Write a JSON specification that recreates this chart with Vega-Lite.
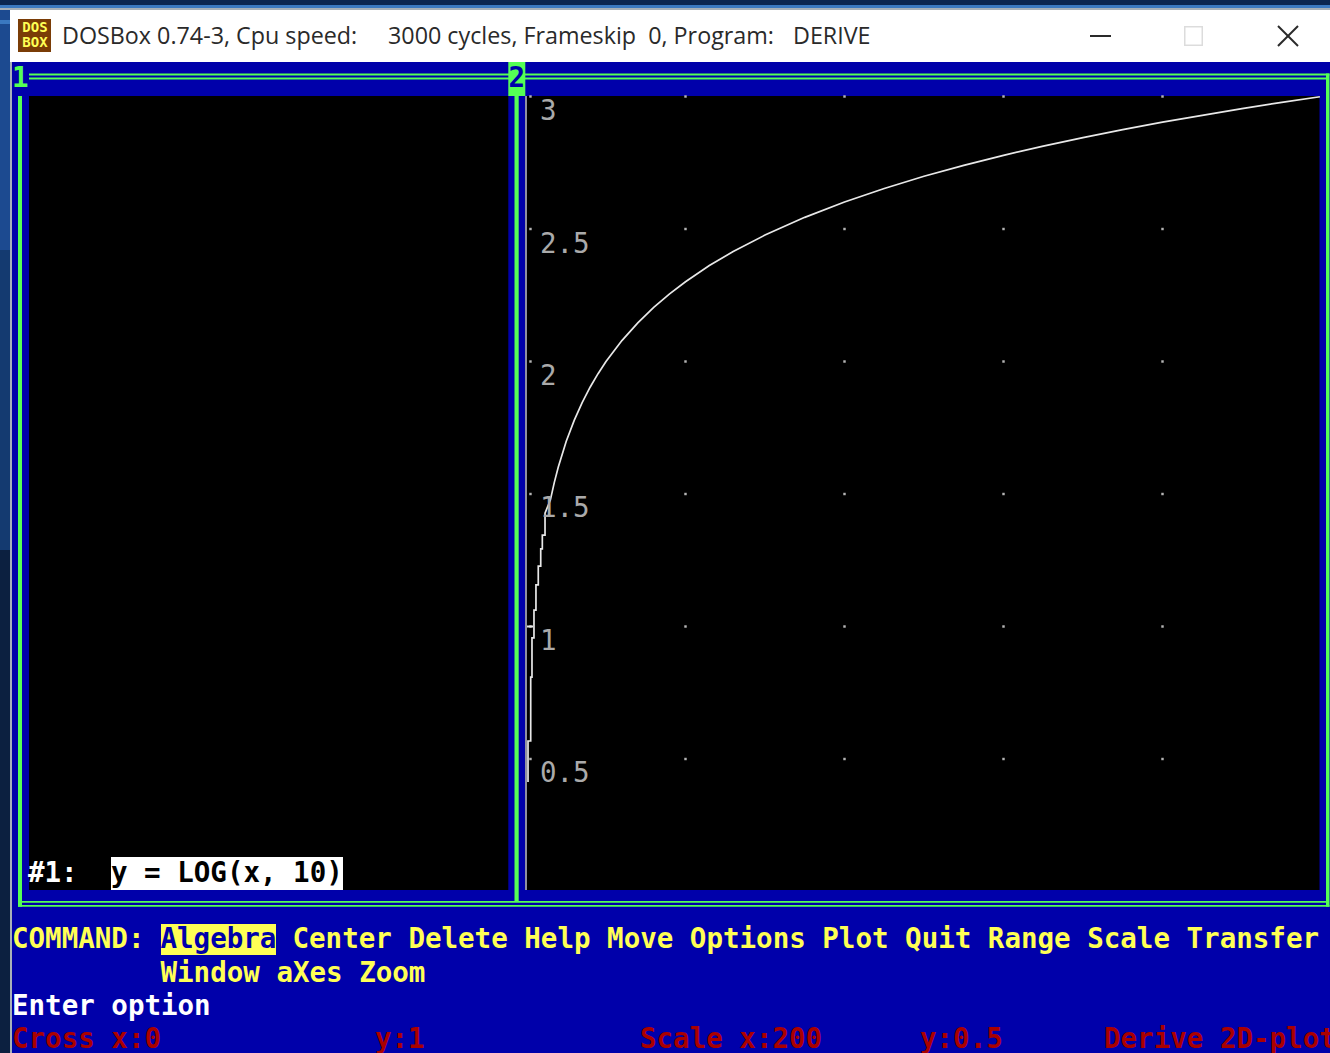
{
"$schema":"https://vega.github.io/schema/vega-lite/v6.json",
"width":1330,"height":1053,"padding":0,
"autosize":{"type":"fit","contains":"padding"},
"background":"#0000aa",
"config":{"view":{"stroke":null}},
"datasets":{
"panels":[
{"x":-662.26,"x2":1010.69,"y":3.36415,"y2":3.3453,"part":"deskTop"},
{"x":-662.26,"x2":1010.69,"y":3.3453,"y2":3.334,"part":"deskStrip"},
{"x":-662.26,"x2":1010.69,"y":3.334,"y2":3.3264,"part":"edge"},
{"x":-662.26,"x2":-649.68,"y":3.3264,"y2":2.4208,"part":"deskUpper"},
{"x":-662.26,"x2":-649.68,"y":3.2887,"y2":3.2736,"part":"deskStrip"},
{"x":-662.26,"x2":-649.68,"y":2.4208,"y2":1.2887,"part":"deskMid"},
{"x":-662.26,"x2":-649.68,"y":1.2887,"y2":-0.60943,"part":"deskLow"},
{"x":-649.68,"x2":-647.17,"y":3.3264,"y2":-0.60943,"part":"edge"},
{"x":-649.68,"x2":1010.69,"y":3.3264,"y2":3.1302,"part":"white"},
{"x":-625.78,"x2":1010.06,"y":3.0868,"y2":3.0792,"part":"frame"},
{"x":-625.78,"x2":1005.66,"y":3.0717,"y2":3.0642,"part":"frame"},
{"x":-639.62,"x2":-634.59,"y":3.0019,"y2":-0.0574,"part":"frame"},
{"x":-639.62,"x2":1010.06,"y":-0.0509,"y2":-0.0574,"part":"frame"},
{"x":-634.59,"x2":1005.66,"y":-0.0358,"y2":-0.0423,"part":"frame"},
{"x":-15.09,"x2":-9.81,"y":3.0019,"y2":-0.0358,"part":"frame"},
{"x":1005.66,"x2":1010.06,"y":3.0868,"y2":-0.0574,"part":"frame"},
{"x":-22.89,"x2":-1.51,"y":3.1302,"y2":3.0019,"part":"frame"},
{"x":-625.78,"x2":-22.89,"y":3.0019,"y2":0.0057,"part":"black"},
{"x":0.63,"x2":997.48,"y":3.0019,"y2":0.0057,"part":"black"},
{"x":-1.89,"x2":0.63,"y":3.0019,"y2":0.0057,"part":"axisGrey"},
{"x":-459.75,"x2":-315.09,"y":-0.1226,"y2":-0.2396,"part":"yellow"},
{"x":-522.64,"x2":-230.82,"y":0.1302,"y2":0.0057,"part":"white"},
{"x":-639.62,"x2":-598.11,"y":3.2925,"y2":3.1679,"part":"icon"},
{"x":827.04,"x2":850.94,"y":3.266,"y2":3.1906,"part":"buttonGrey"},
{"x":828.93,"x2":849.06,"y":3.2604,"y2":3.1962,"part":"white"},
{"x":708.8,"x2":735.22,"y":3.2321,"y2":3.2245,"part":"dark"}
],
"strokes":[
{"x":945.28,"x2":970.44,"y":3.266,"y2":3.1906,"part":"dark"},
{"x":945.28,"x2":970.44,"y":3.1906,"y2":3.266,"part":"dark"},
{"x":0.63,"x2":8.18,"y":1.0,"y2":1.0,"part":"curve"}
],
"grid":[
{"x":5,"y":3},{"x":200,"y":3},{"x":400,"y":3},{"x":600,"y":3},{"x":800,"y":3},
{"x":5,"y":2.5},{"x":200,"y":2.5},{"x":400,"y":2.5},{"x":600,"y":2.5},{"x":800,"y":2.5},
{"x":5,"y":2},{"x":200,"y":2},{"x":400,"y":2},{"x":600,"y":2},{"x":800,"y":2},
{"x":5,"y":1.5},{"x":200,"y":1.5},{"x":400,"y":1.5},{"x":600,"y":1.5},{"x":800,"y":1.5},
{"x":5,"y":1},{"x":200,"y":1},{"x":400,"y":1},{"x":600,"y":1},{"x":800,"y":1},
{"x":5,"y":0.5},{"x":200,"y":0.5},{"x":400,"y":0.5},{"x":600,"y":0.5},{"x":800,"y":0.5}
],
"curve":[
{"x":1.9,"y":0.413},{"x":1.9,"y":0.568},{"x":5.3,"y":0.568},{"x":5.3,"y":0.809},{"x":6.9,"y":0.809},{"x":6.9,"y":0.957},{"x":9.4,"y":0.957},{"x":9.4,"y":1.062},{"x":11.9,"y":1.062},{"x":11.9,"y":1.157},{"x":14.8,"y":1.157},{"x":14.8,"y":1.228},{"x":17.9,"y":1.228},{"x":17.9,"y":1.293},{"x":19.9,"y":1.293},{"x":19.9,"y":1.345},{"x":23.3,"y":1.345},{"x":23.3,"y":1.428},
{"x":30,"y":1.477},{"x":35,"y":1.544},{"x":40,"y":1.602},{"x":50,"y":1.699},{"x":60,"y":1.778},{"x":70,"y":1.845},{"x":80,"y":1.903},{"x":90,"y":1.954},{"x":100,"y":2},{"x":120,"y":2.079},{"x":140,"y":2.146},{"x":160,"y":2.204},{"x":180,"y":2.255},{"x":200,"y":2.301},{"x":230,"y":2.362},{"x":260,"y":2.415},{"x":300,"y":2.477},{"x":350,"y":2.544},{"x":400,"y":2.602},{"x":450,"y":2.653},{"x":500,"y":2.699},{"x":550,"y":2.74},{"x":600,"y":2.778},{"x":650,"y":2.813},{"x":700,"y":2.845},{"x":750,"y":2.875},{"x":800,"y":2.903},{"x":850,"y":2.929},{"x":900,"y":2.954},{"x":950,"y":2.978},{"x":998,"y":2.999}
],
"axisText":[
{"x":16.98,"y":2.949,"label":"3","part":"grey"},
{"x":16.98,"y":2.4472,"label":"2.5","part":"grey"},
{"x":16.98,"y":1.9491,"label":"2","part":"grey"},
{"x":16.98,"y":1.4509,"label":"1.5","part":"grey"},
{"x":16.98,"y":0.9491,"label":"1","part":"grey"},
{"x":16.98,"y":0.4509,"label":"0.5","part":"grey"}
],
"dosText":[
{"x":-647.17,"y":3.0736,"label":"1","part":"frame"},
{"x":-22.64,"y":3.0736,"label":"2","part":"blue"},
{"x":-627.04,"y":0.0736,"label":"#1:","part":"white"},
{"x":-522.64,"y":0.0736,"label":"y = LOG(x, 10)","part":"black"},
{"x":-647.17,"y":-0.1755,"label":"COMMAND:","part":"yellow"},
{"x":-460.38,"y":-0.1755,"label":"Algebra","part":"blue"},
{"x":-294.34,"y":-0.1755,"label":"Center Delete Help Move Options Plot Quit Range Scale Transfer","part":"yellow"},
{"x":-460.38,"y":-0.3038,"label":"Window aXes Zoom","part":"yellow"},
{"x":-647.17,"y":-0.4283,"label":"Enter option","part":"white"},
{"x":-647.17,"y":-0.5528,"label":"Cross x:0","part":"red"},
{"x":-190.57,"y":-0.5528,"label":"y:1","part":"red"},
{"x":142.77,"y":-0.5528,"label":"Scale x:200","part":"red"},
{"x":494.97,"y":-0.5528,"label":"y:0.5","part":"red"},
{"x":726.41,"y":-0.5528,"label":"Derive 2D-plot","part":"red"}
],
"titleText":[
{"x":-584.28,"y":3.2283,"label":"DOSBox 0.74-3, Cpu speed:","part":"dark"},
{"x":-174.21,"y":3.2283,"label":"3000 cycles, Frameskip\u00a0 0, Program:","part":"dark"},
{"x":335.22,"y":3.2283,"label":"DERIVE","part":"dark"}
],
"iconText":[
{"x":-618.24,"y":3.2585,"label":"DOS","part":"yellow"},
{"x":-618.24,"y":3.2019,"label":"BOX","part":"yellow"}
]
},
"encoding":{
"x":{"field":"x","type":"quantitative","axis":null,"scale":{"domain":[-662.26,1010.69],"nice":false,"zero":false}},
"y":{"field":"y","type":"quantitative","axis":null,"scale":{"domain":[-0.60943,3.36415],"nice":false,"zero":false}},
"color":{"field":"part","type":"nominal","legend":null,"scale":{
"domain":["deskTop","deskStrip","edge","deskUpper","deskMid","deskLow","white","frame","black","grey","axisGrey","yellow","icon","buttonGrey","dark","blue","red","curve"],
"range":["#0a2550","#3a78c0","#a8b0b8","#1c4a90","#143a70","#0c2040","#ffffff","#55ff55","#000000","#aaaaaa","#9090a0","#ffff55","#7a3c06","#dcdcdc","#2a2a2a","#0000aa","#aa0000","#e8e8e8"]}}
},
"layer":[
{"data":{"name":"panels"},"mark":{"type":"rect","clip":true},"encoding":{"x2":{"field":"x2"},"y2":{"field":"y2"}}},
{"data":{"name":"grid"},"mark":{"type":"point","shape":"square","filled":true,"size":6,"opacity":1,"color":"#b4b4b4"},"encoding":{"color":{"value":"#b4b4b4"}}},
{"data":{"name":"strokes"},"mark":{"type":"rule","strokeWidth":2},"encoding":{"x2":{"field":"x2"},"y2":{"field":"y2"}}},
{"data":{"name":"curve"},"mark":{"type":"line","strokeWidth":1.7,"color":"#e8e8e8","clip":true},"encoding":{"color":{"value":"#e8e8e8"},"order":null}},
{"data":{"name":"axisText"},"mark":{"type":"text","font":"DejaVu Sans Mono","fontSize":27.5,"dy":2,"align":"left","baseline":"middle","clip":true},"encoding":{"text":{"field":"label"}}},
{"data":{"name":"dosText"},"mark":{"type":"text","font":"DejaVu Sans Mono","fontWeight":"bold","fontSize":27.5,"dy":2,"align":"left","baseline":"middle","clip":true},"encoding":{"text":{"field":"label"}}},
{"data":{"name":"titleText"},"mark":{"type":"text","font":"Open Sans","fontSize":23.3,"dy":1,"align":"left","baseline":"middle","clip":true},"encoding":{"text":{"field":"label"}}},
{"data":{"name":"iconText"},"mark":{"type":"text","font":"DejaVu Sans Mono","fontWeight":"bold","fontSize":14,"align":"center","baseline":"middle","clip":true},"encoding":{"text":{"field":"label"}}}
]
}
